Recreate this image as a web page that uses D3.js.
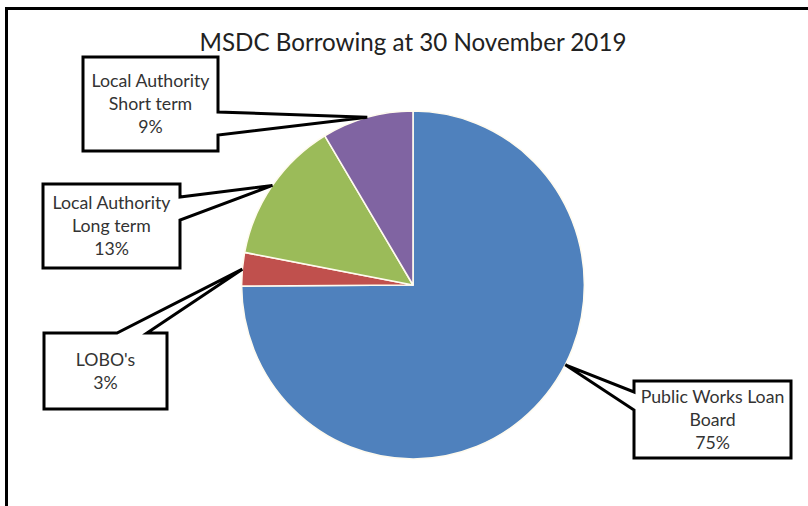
<!DOCTYPE html>
<html><head><meta charset="utf-8">
<script src="https://cdn.jsdelivr.net/npm/d3@7/dist/d3.min.js"></script>
<style>html,body{margin:0;padding:0;background:#fff;}svg{display:block;}</style>
</head><body>
<svg id="chart" width="808" height="506"></svg>
<script>
// ---- data ----
const title = "MSDC Borrowing at 30 November 2019";
const categories = ["Public Works Loan Board", "LOBO's", "Local Authority Long term", "Local Authority Short term"];
const values = [74.9, 3.1, 13.4, 8.6];
const labelLines = [["Public Works Loan", "Board"], ["LOBO's"], ["Local Authority", "Long term"], ["Local Authority", "Short term"]];
const colors = ["#4F81BD", "#C0504D", "#9BBB59", "#8064A2"];

// ---- layout ----
const W = 808, H = 506;
const cx = 413, cy = 285, R = 174, sx = 0.985;
const FONT = "Lato, 'Open Sans', sans-serif";
const callouts = [
  {box: [634, 381, 791, 458], side: "left",  base: [392, 410], frac: 0.435},
  {box: [44, 333, 167, 409],  side: "top",   base: [117, 147], frac: 0.5},
  {box: [43, 184, 180, 268],  side: "right", base: [197, 220], frac: 0.5},
  {box: [83, 57, 218, 151],   side: "right", base: [112, 135], frac: 0.5}
];

const svg = d3.select("#chart");
svg.append("rect").attr("width", W).attr("height", H).attr("fill", "#fff");
svg.append("rect").attr("x", 6.5).attr("y", 8.5).attr("width", 900).attr("height", 600)
  .attr("fill", "none").attr("stroke", "#000").attr("stroke-width", 3);

const t = svg.append("text").attr("x", cx).attr("y", 51).attr("text-anchor", "middle")
  .attr("font-family", FONT).attr("font-size", 100).attr("fill", "#222").text(title);
const tw = t.node().getComputedTextLength();
t.attr("font-size", 100 * 427 / tw);

const pie = d3.pie().sort(null).value(d => d)(values);
const arc = d3.arc().innerRadius(0).outerRadius(R);
const g = svg.append("g").attr("transform", `translate(${cx},${cy}) scale(${sx},1)`);
g.selectAll("path").data(pie).join("path")
  .attr("d", arc).attr("fill", (d, i) => colors[i])
  .attr("stroke", "#fffbef").attr("stroke-width", 1.6).attr("stroke-linejoin", "round");

const probe = svg.append("text").attr("font-family", FONT).attr("font-size", 100).text("Local Authority");
const fs = 100 * 118 / probe.node().getComputedTextLength();
probe.remove();
const lineH = 23;

pie.forEach((d, i) => {
  const c = callouts[i];
  const a = d.startAngle + (d.endAngle - d.startAngle) * c.frac;
  const tip = [cx + R * sx * Math.sin(a), cy - R * Math.cos(a)];
  const [x0, y0, x1, y1] = c.box;
  let pts = [[x0, y0]];
  if (c.side === "top") pts.push([c.base[0], y0], tip, [c.base[1], y0]);
  pts.push([x1, y0]);
  if (c.side === "right") pts.push([x1, c.base[0]], tip, [x1, c.base[1]]);
  pts.push([x1, y1], [x0, y1]);
  if (c.side === "left") pts.push([x0, c.base[1]], tip, [x0, c.base[0]]);
  svg.append("path").attr("d", "M" + pts.map(p => p.join(",")).join("L") + "Z")
    .attr("fill", "#fff").attr("stroke", "#000").attr("stroke-width", 3).attr("stroke-linejoin", "miter");
  const pct = Math.round(d.value) + "%";
  const lines = labelLines[i].concat([pct]);
  const mx = (x0 + x1) / 2, my = (y0 + y1) / 2;
  const startY = my - (lines.length - 1) * lineH / 2;
  const tx = svg.append("text").attr("text-anchor", "middle").attr("font-family", FONT)
    .attr("font-size", fs).attr("fill", "#333");
  lines.forEach((l, k) => {
    tx.append("tspan").attr("x", mx).attr("y", startY + k * lineH).attr("dy", "0.35em").text(l);
  });
});
</script>
</body></html>
